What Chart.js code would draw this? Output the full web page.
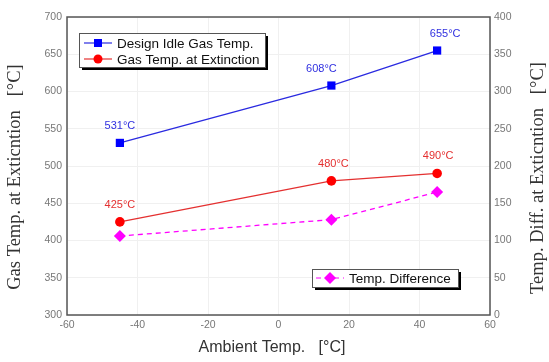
<!DOCTYPE html>
<html>
<head>
<meta charset="utf-8">
<script src="https://cdn.jsdelivr.net/npm/chart.js@4/dist/chart.umd.min.js"></script>
<style>
  html, body { margin: 0; padding: 0; background: #fff; }
  #wrap { width: 549px; height: 362px; }
</style>
</head>
<body>
<div id="wrap"><canvas id="chart"></canvas></div>
<script>
// ---- data ----
const ambientTemps   = [-45, 15, 45];
const designIdleTemp = [531, 608, 655];
const extinctionTemp = [425, 480, 490];
const tempDifference = [106, 128, 165];

const xTicks     = [-60, -40, -20, 0, 20, 40, 60];
const leftTicks  = [300, 350, 400, 450, 500, 550, 600, 650, 700];
const rightTicks = [0, 50, 100, 150, 200, 250, 300, 350, 400];

const seriesNames = ["Design Idle Gas Temp.", "Gas Temp. at Extinction", "Temp. Difference"];
const leftTitle   = "Gas Temp. at Exticntion   [°C]";
const rightTitle  = "Temp. Diff. at Exticntion   [°C]";
const xTitle      = "Ambient Temp.   [°C]";

// ---- colours ----
const COLORS = {
    blue: "#0000ff",
    blueLine: "#2a2ae0",
    red: "#ff0000",
    redLine: "#e43030",
    magenta: "#ff00ff",
    tick: "#777777",
    grid: "#f0f0f0",
    frame: "#555555",
    title: "#333333",
};

const toPoints = (ys) => ambientTemps.map((x, i) => ({ x: x, y: ys[i] }));

// labels above points (text built from values)
const valueLabels = {
    id: "valueLabels",
    afterDatasetsDraw(chart) {
        const ctx = chart.ctx;
        const shifts = [[0, -10, 8], [0, 2, 1]];
        ctx.save();
        ctx.font = "11px 'Liberation Sans', Arial, sans-serif";
        ctx.textAlign = "center";
        ctx.textBaseline = "middle";
        [0, 1].forEach((di) => {
            const meta = chart.getDatasetMeta(di);
            const ds = chart.data.datasets[di];
            ctx.fillStyle = di === 0 ? "#3030e0" : "#e43030";
            meta.data.forEach((pt, i) => {
                ctx.fillText(ds.data[i].y + "°C", pt.x + shifts[di][i], pt.y - 17);
            });
        });
        ctx.restore();
    }
};

// frame, axis titles and two shadowed legend boxes
const frameAndLegends = {
    id: "frameAndLegends",
    afterDraw(chart) {
        const ctx = chart.ctx;
        const a = chart.chartArea;
        ctx.save();
        ctx.strokeStyle = COLORS.frame;
        ctx.lineWidth = 1.5;
        ctx.strokeRect(a.left, a.top, a.right - a.left, a.bottom - a.top);

        // both y titles read bottom to top
        const vTitle = (text, x, y) => {
            ctx.save();
            ctx.translate(x, y);
            ctx.rotate(-Math.PI / 2);
            ctx.fillStyle = COLORS.title;
            ctx.font = "18.5px 'Liberation Serif', 'Times New Roman', serif";
            ctx.textAlign = "center";
            ctx.textBaseline = "middle";
            ctx.fillText(text, 0, 0);
            ctx.restore();
        };
        vTitle(leftTitle, 15, 177);
        vTitle(rightTitle, 538, 178);

        ctx.fillStyle = COLORS.title;
        ctx.font = "16px 'Liberation Sans', Arial, sans-serif";
        ctx.textAlign = "center";
        ctx.textBaseline = "middle";
        ctx.fillText(xTitle, 272, 348);

        const drawBox = (x, y, w, h) => {
            ctx.fillStyle = "#000";
            ctx.fillRect(x + 3, y + 3, w, h);
            ctx.fillStyle = "#fff";
            ctx.fillRect(x, y, w, h);
            ctx.strokeStyle = "#555";
            ctx.lineWidth = 1;
            ctx.strokeRect(x + 0.5, y + 0.5, w, h);
        };
        const drawEntry = (di, x, y) => {
            const ds = chart.data.datasets[di];
            ctx.strokeStyle = ds.borderColor;
            ctx.lineWidth = 1.2;
            ctx.setLineDash(ds.borderDash || []);
            ctx.beginPath();
            ctx.moveTo(x, y);
            ctx.lineTo(x + 28, y);
            ctx.stroke();
            ctx.setLineDash([]);
            ctx.fillStyle = ds.pointBackgroundColor;
            const cx = x + 14;
            if (ds.pointStyle === "rect") {
                ctx.fillRect(cx - 4, y - 4, 8, 8);
            } else if (ds.pointStyle === "circle") {
                ctx.beginPath(); ctx.arc(cx, y, 4.5, 0, Math.PI * 2); ctx.fill();
            } else {
                ctx.beginPath();
                ctx.moveTo(cx, y - 6); ctx.lineTo(cx + 6, y); ctx.lineTo(cx, y + 6); ctx.lineTo(cx - 6, y);
                ctx.closePath(); ctx.fill();
            }
            ctx.fillStyle = "#111";
            ctx.font = "13.5px 'Liberation Sans', Arial, sans-serif";
            ctx.textAlign = "left";
            ctx.textBaseline = "middle";
            ctx.fillText(seriesNames[di], x + 33, y + 1);
        };

        drawBox(79, 33, 186, 34);
        drawEntry(0, 84, 43);
        drawEntry(1, 84, 59);

        drawBox(312, 269, 146, 18);
        drawEntry(2, 316, 278);
        ctx.restore();
    }
};

const tickFont = { family: "'Liberation Sans', Arial, sans-serif", size: 10.5 };

new Chart(document.getElementById("chart"), {
    type: "line",
    data: {
        datasets: [
            {
                label: seriesNames[0],
                data: toPoints(designIdleTemp),
                yAxisID: "y",
                borderColor: COLORS.blueLine,
                borderWidth: 1.3,
                pointStyle: "rect",
                pointRadius: 5.8,
                pointBackgroundColor: COLORS.blue,
                pointBorderColor: COLORS.blue,
                pointBorderWidth: 0,
            },
            {
                label: seriesNames[1],
                data: toPoints(extinctionTemp),
                yAxisID: "y",
                borderColor: COLORS.redLine,
                borderWidth: 1.3,
                pointStyle: "circle",
                pointRadius: 4.8,
                pointBackgroundColor: COLORS.red,
                pointBorderColor: COLORS.red,
                pointBorderWidth: 0,
            },
            {
                label: seriesNames[2],
                data: toPoints(tempDifference),
                yAxisID: "y1",
                borderColor: COLORS.magenta,
                borderWidth: 1.3,
                borderDash: [5, 4],
                pointStyle: "rectRot",
                pointRadius: 6,
                pointBackgroundColor: COLORS.magenta,
                pointBorderColor: COLORS.magenta,
                pointBorderWidth: 0,
            },
        ],
    },
    options: {
        responsive: true,
        maintainAspectRatio: false,
        animation: false,
        layout: { padding: { top: 17, left: 0, right: 0, bottom: 0 } },
        plugins: {
            legend: { display: false },
            tooltip: { enabled: false },
        },
        scales: {
            x: {
                type: "linear",
                min: -60, max: 60,
                afterBuildTicks: (s) => { s.ticks = xTicks.map((v) => ({ value: v })); },
                afterFit: (s) => { s.height = 47; },
                grid: { color: COLORS.grid, drawTicks: false },
                border: { display: false },
                ticks: { color: COLORS.tick, font: tickFont, padding: 4, maxRotation: 0 },
            },
            y: {
                position: "left",
                min: 300, max: 700,
                afterBuildTicks: (s) => { s.ticks = leftTicks.map((v) => ({ value: v })); },
                afterFit: (s) => { s.width = 67; },
                grid: { color: COLORS.grid, drawTicks: false },
                border: { display: false },
                ticks: { color: COLORS.tick, font: tickFont, padding: 5 },
            },
            y1: {
                position: "right",
                min: 0, max: 400,
                afterBuildTicks: (s) => { s.ticks = rightTicks.map((v) => ({ value: v })); },
                afterFit: (s) => { s.width = 59; },
                grid: { display: false, drawTicks: false },
                border: { display: false },
                ticks: { color: COLORS.tick, font: tickFont, padding: 4 },
            },
        },
    },
    plugins: [valueLabels, frameAndLegends],
});
</script>
</body>
</html>
